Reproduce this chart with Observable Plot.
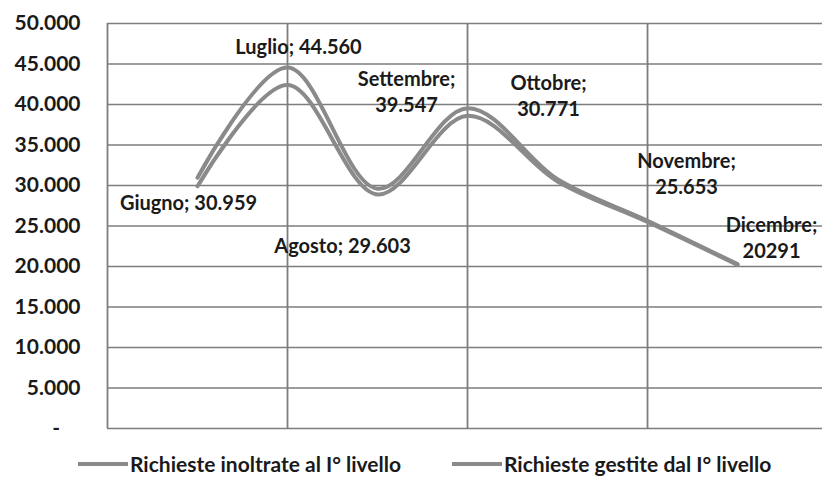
<!DOCTYPE html>
<html><head><meta charset="utf-8">
<script src="https://cdn.jsdelivr.net/npm/d3@7"></script>
<script src="https://cdn.jsdelivr.net/npm/@observablehq/plot@0.6"></script>
<style>
html,body{margin:0;padding:0;background:#fff;}
#chart{width:822px;font-family:Lato,"DejaVu Sans",sans-serif;}
#legend{display:flex;align-items:center;height:37px;font:bold 21px Lato,sans-serif;color:#1a1a1a;position:relative;}
.item{position:absolute;display:flex;align-items:center;}
.sw{display:inline-block;width:50px;height:4px;background:#8a8a8a;margin-right:2px;}
</style></head><body><div id="chart"></div>
<script>
const months = ["Giugno","Luglio","Agosto","Settembre","Ottobre","Novembre","Dicembre"];
const inoltrate = [30959, 44560, 29603, 39547, 30771, 25653, 20291];
const gestite = [29900, 42400, 28900, 38600, 30500, 25500, 20200];
const seriesNames = ["Richieste inoltrate al I° livello", "Richieste gestite dal I° livello"];
const labels = ["Giugno; 30.959", "Luglio; 44.560", "Agosto; 29.603", "Settembre;\n39.547", "Ottobre;\n30.771", "Novembre;\n25.653", "Dicembre;\n20291"];
const yTicks = [0, 5000, 10000, 15000, 20000, 25000, 30000, 35000, 40000, 45000, 50000];
const vGrid = [-1, 1, 3, 5];

const rows = [];
months.forEach((m, i) => {
  rows.push({i, month: m, value: inoltrate[i], serie: seriesNames[0]});
  rows.push({i, month: m, value: gestite[i], serie: seriesNames[1]});
});
const labelRows = months.map((m, i) => ({i, value: inoltrate[i], text: labels[i]}));
const offsets = [[-9,24],[11,-22],[-35,56],[-61,-17],[-9,-85],[39,-48],[34,-27]];
const fmt = d => d === 0 ? "-\u00a0\u00a0\u00a0\u00a0" : d3.format(",")(d).replace(/,/g, ".");

const chart = Plot.plot({
  width: 822, height: 445,
  marginLeft: 107, marginRight: 0, marginTop: 23, marginBottom: 17,
  style: {fontFamily: "Lato, sans-serif", background: "#fff"},
  x: {domain: [-1, 6.944], axis: null},
  y: {domain: [0, 50000], ticks: yTicks, tickFormat: fmt, tickSize: 0, tickPadding: 27, label: null},
  marks: [
    Plot.gridY(yTicks, {stroke: "#7d7d7d", strokeOpacity: 1, strokeWidth: 1.6}),
    Plot.ruleX(vGrid, {stroke: "#7d7d7d", strokeWidth: 1.8}),
    Plot.axisY({ticks: yTicks, tickFormat: fmt, tickSize: 0, tickPadding: 27, fontSize: 21, fontWeight: "bold", fill: "#1a1a1a", label: null}),
    Plot.line(rows, {x: "i", y: "value", z: "serie", curve: "catmull-rom", stroke: "#8a8a8a", strokeWidth: 4}),
    ...labelRows.map((d, k) => Plot.text([d], {x: "i", y: "value", text: "text", dx: offsets[k][0], dy: offsets[k][1], fontSize: 20, fontWeight: "bold", fill: "#1a1a1a", lineHeight: 1.3}))
  ]
});
document.getElementById("chart").appendChild(chart);
const leg = document.createElement("div");
leg.id = "legend";
leg.innerHTML = `<div class="item" style="left:78px"><span class="sw"></span>${seriesNames[0]}</div><div class="item" style="left:452px"><span class="sw"></span>${seriesNames[1]}</div>`;
document.getElementById("chart").appendChild(leg);
</script></body></html>
